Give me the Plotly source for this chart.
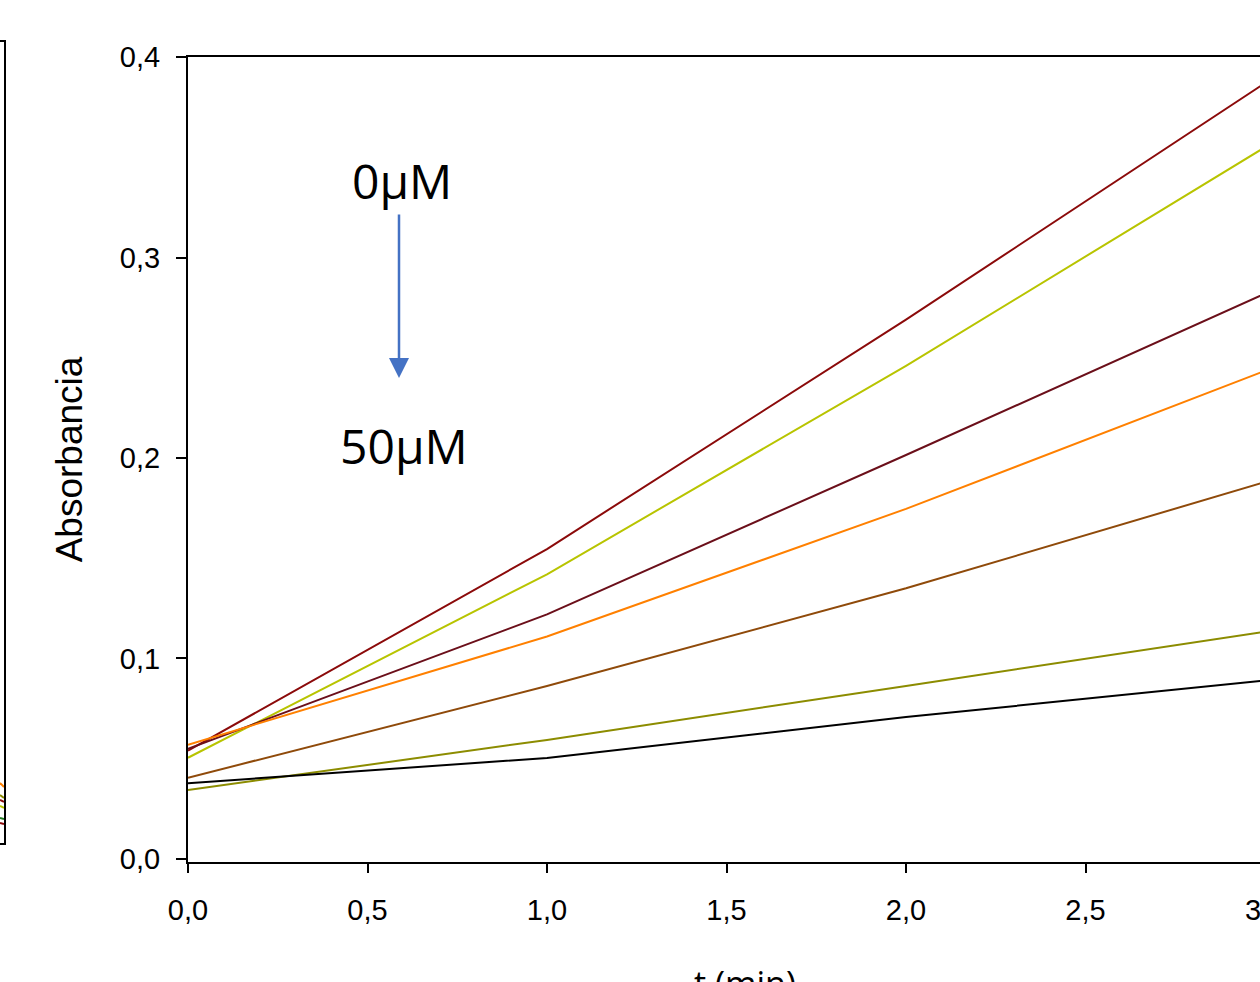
import plotly.graph_objects as go

# ---- data ----
t_min = [0, 1, 2, 3]
s_0uM = [0.0540, 0.1546, 0.2690, 0.3870]
s_a = [0.0505, 0.1420, 0.2460, 0.3550]
s_b = [0.0550, 0.1220, 0.2015, 0.2820]
s_c = [0.0570, 0.1110, 0.1746, 0.2435]
s_d = [0.0405, 0.0863, 0.1350, 0.1880]
s_e = [0.0344, 0.0594, 0.0863, 0.1134]
s_50uM = [0.0378, 0.0504, 0.0708, 0.0890]
series = [s_0uM, s_a, s_b, s_c, s_d, s_e, s_50uM]
colors = ["#8B0A0A", "#B8C400", "#6B0F1A", "#FF8000", "#8F4A0A", "#8C8C00", "#000000"]

y_ticks = [0.0, 0.1, 0.2, 0.3, 0.4]
y_tick_labels = ["0,0", "0,1", "0,2", "0,3", "0,4"]
x_ticks = [0.0, 0.5, 1.0, 1.5, 2.0, 2.5]
x_tick_labels = ["0,0", "0,5", "1,0", "1,5", "2,0", "2,5"]
x_last_tick = 3.0
x_last_label = "3,0"

# partial neighbouring panel (only its right edge is visible)
mini_x = [0, 1]
mini_vals = [[0.0300, 0.0280], [0.0240, 0.0225], [0.0215, 0.0205],
             [0.0185, 0.0175], [0.0125, 0.0120], [0.0100, 0.0095]]
mini_colors = ["#FF8000", "#8C8C00", "#8B0A0A", "#B8C400", "#1F7A1F", "#8B0A0A"]

W, H = 1260, 982
x_dom = [188 / W, 1.0]
x_rng = [0, 1072 / 359]

fig = go.Figure()

for vals, col in zip(series, colors):
    fig.add_trace(go.Scatter(x=t_min, y=vals, mode="lines",
                             line=dict(color=col, width=2), showlegend=False,
                             xaxis="x", yaxis="y"))

for vals, col in zip(mini_vals, mini_colors):
    fig.add_trace(go.Scatter(x=mini_x, y=vals, mode="lines",
                             line=dict(color=col, width=2), showlegend=False,
                             xaxis="x2", yaxis="y2"))

tickfont = dict(family="Liberation Sans, Arial, sans-serif", size=29, color="#000")

fig.update_layout(
    template="none",
    width=W, height=H, autosize=False,
    margin=dict(l=0, r=0, t=0, b=0, pad=0),
    paper_bgcolor="white", plot_bgcolor="white",
    xaxis=dict(domain=x_dom, range=x_rng, anchor="y",
               automargin=False,
               showgrid=False, zeroline=False, showline=True, linecolor="black",
               linewidth=2, mirror=True, ticks="outside", ticklen=9, tickwidth=2,
               tickcolor="black", tickvals=x_ticks, ticktext=x_tick_labels,
               tickfont=tickfont, ticklabelstandoff=12),
    yaxis=dict(domain=[(H - 862) / H, (H - 57) / H], range=[-0.0015, 0.4], anchor="x",
               automargin=False,
               showgrid=False, zeroline=False, showline=True, linecolor="black",
               linewidth=2, ticks="outside", ticklen=10, tickwidth=2,
               tickcolor="black", tickvals=y_ticks, ticktext=y_tick_labels,
               tickfont=tickfont, ticklabelstandoff=10,
               title=dict(text="Absorbancia", standoff=26,
                          font=dict(family="Liberation Sans, Arial, sans-serif",
                                    size=37, color="#000"))),
    xaxis2=dict(domain=[0, 4 / W], range=[0, 1], anchor="y2", showgrid=False,
                automargin=False,
                zeroline=False, showline=True, linecolor="black", linewidth=2,
                mirror=True, showticklabels=False, ticks=""),
    yaxis2=dict(domain=[(H - 843) / H, (H - 42) / H], range=[0, 0.4], anchor="x2",
                automargin=False,
                side="right", showgrid=False, zeroline=False, showline=True,
                linecolor="black", linewidth=2, showticklabels=False, ticks=""),
)

label_font = dict(family="Open Sans, Noto Sans, sans-serif", size=48, color="#000")
fig.add_annotation(text="0µM", x=402 / W, y=(H - 180) / H, xref="paper", yref="paper",
                   showarrow=False, font=label_font, xanchor="center", yanchor="middle")
fig.add_annotation(text="50µM", x=404 / W, y=(H - 445) / H, xref="paper", yref="paper",
                   showarrow=False, font=label_font, xanchor="center", yanchor="middle")
# downward arrow
fig.add_annotation(x=399 / W, y=(H - 378) / H, ax=0, ay=-165,
                   xref="paper", yref="paper", axref="pixel", ayref="pixel",
                   text="", showarrow=True, arrowhead=2, arrowsize=1.6,
                   arrowwidth=2.5, arrowcolor="#4472C4", standoff=0)
# x-axis title (cropped at bottom edge)
fig.add_annotation(text="t (min)", x=745 / W, y=(H - 958) / H, xref="paper", yref="paper",
                   showarrow=False, xanchor="center", yanchor="top",
                   font=dict(family="Open Sans, Noto Sans, sans-serif", size=34, color="#000"))
# tick label at 3,0 (lies just beyond the visible axis range, partly outside the picture)
x_last_paper = x_dom[0] + (x_last_tick - x_rng[0]) / (x_rng[1] - x_rng[0]) * (x_dom[1] - x_dom[0])
fig.add_annotation(text=x_last_label, x=x_last_paper, y=(H - 892) / H, xref="paper", yref="paper",
                   showarrow=False, xanchor="center", yanchor="top", font=tickfont)

fig.write_html("out.html", config={"displayModeBar": False},
               post_script="document.body.style.margin='0px';document.body.style.overflow='hidden';")
